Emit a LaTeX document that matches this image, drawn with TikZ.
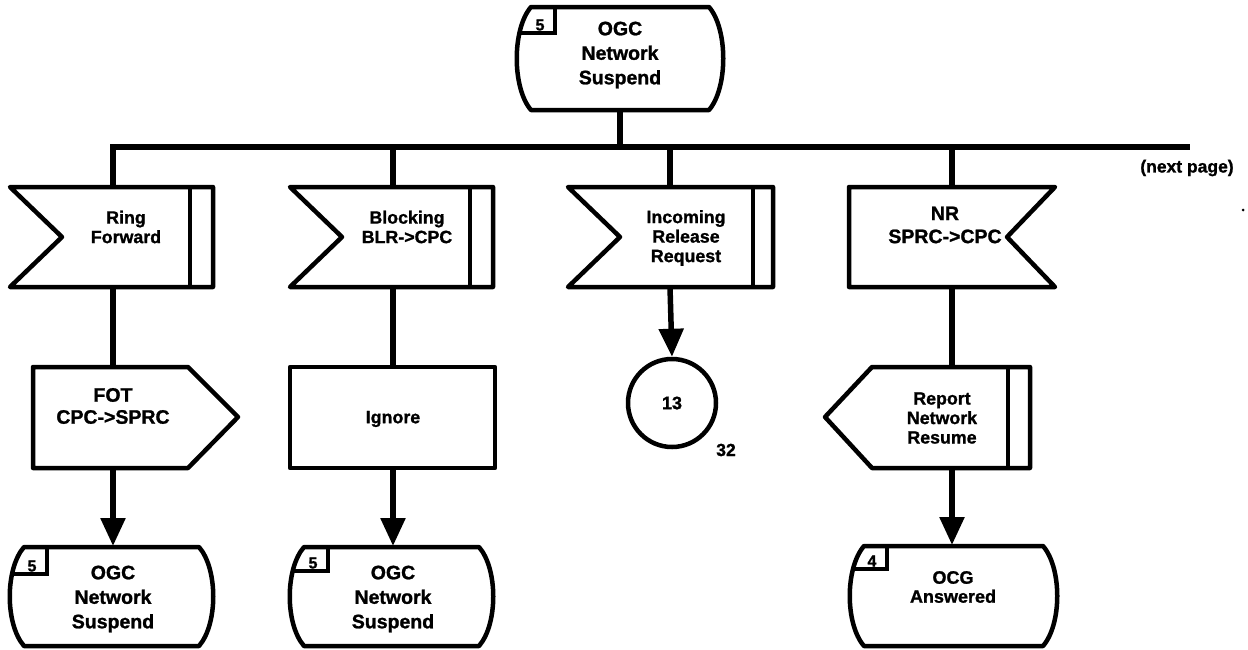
\documentclass[tikz,border=0pt]{standalone}
\usepackage{fontspec}
\setmainfont{Liberation Sans}[BoldFeatures={FakeBold=1.2}]
\usetikzlibrary{arrows.meta,calc}
\newcommand\StOutline[4]{(#1+14,#3) -- (#2-14,#3) .. controls (#2+5,#3+22) and (#2+5,#4-22) .. (#2-14,#4) -- (#1+14,#4) .. controls (#1-5,#4-22) and (#1-5,#3+22) .. (#1+14,#3) -- cycle}
\newcommand\StShape[8]{% x0,x1,top,bot,boxright,boxbottom,number,name
  \fill[white] \StOutline{#1}{#2}{#3}{#4};
  \begin{scope}
    \clip \StOutline{#1}{#2}{#3}{#4};
    \draw[numline] (#1-10,#6) -- (#5,#6) -- (#5,#3-10);
  \end{scope}
  \draw[outl] \StOutline{#1}{#2}{#3}{#4};
  \node[numtxt] (#8) at (#5-15,#6-8) {#7};
}
\begin{document}
\begin{tikzpicture}[x=1pt,y=-1pt,
  outl/.style={line width=4.5pt,line join=round},
  shp/.style={outl,fill=white},
  numline/.style={line width=3.5pt},
  wire/.style={line width=5.5pt},
  arr/.style={wire,-{Triangle[width=24pt,length=28pt]}},
  itxt/.style={font=\bfseries\fontsize{17.8}{19.5}\selectfont,align=center,inner sep=0pt},
  otxt/.style={font=\bfseries\fontsize{19.5}{22}\selectfont,align=center,inner sep=0pt},
  stxt/.style={font=\bfseries\fontsize{19.5}{24.5}\selectfont,align=center,inner sep=0pt},
  numtxt/.style={font=\bfseries\fontsize{16}{16}\selectfont,inner sep=0pt},
  lbl/.style={font=\bfseries\fontsize{17.5}{17.5}\selectfont,inner sep=0pt},
]
\useasboundingbox (0,0) rectangle (1248,649);
\fill[white] (0,0) rectangle (1248,649);

% coordinates
\coordinate (topb) at (620,110);
\coordinate (busc) at (620,147);
\coordinate (busr) at (1190,147);
\coordinate (in1t) at (113,187);  \coordinate (in1b) at (113,287);
\coordinate (out1t) at (113,367); \coordinate (out1b) at (113,468);
\coordinate (s1t) at (113,546);
\coordinate (in2t) at (393,187);  \coordinate (in2b) at (393,287);
\coordinate (out2t) at (393,367); \coordinate (out2b) at (393,468);
\coordinate (s2t) at (393,546);
\coordinate (in3t) at (670,187);  \coordinate (in3b) at (670,287);
\coordinate (in4t) at (952,187);  \coordinate (in4b) at (952,287);
\coordinate (out4t) at (952,367); \coordinate (out4b) at (952,468);
\coordinate (s4t) at (952,545);

% circle connector
\node[circle,draw,line width=4.5pt,minimum size=88pt,inner sep=0pt,
      font=\bfseries\fontsize{18}{18}\selectfont] (c13) at (672,403) {13};
\node[lbl] (p32) at (726,450) {32};

% connectors
\draw[wire] (topb) -- (busc);
\draw[wire,line join=miter] (in1t) |- (busr);
\draw[wire] (in2t) -- (in2t |- busc);
\draw[wire] (in3t) -- (in3t |- busc);
\draw[wire] (in4t) -- (in4t |- busc);
\draw[wire] (in1b) -- (out1t);
\draw[wire] (in2b) -- (out2t);
\draw[wire] (in4b) -- (out4t);
\draw[arr] (out1b) -- (s1t);
\draw[arr] (out2b) -- (s2t);
\draw[arr] (out4b) -- (s4t);
\draw[arr] (in3b) -- (c13.north);

% top state
\StShape{517}{723}{7}{110}{555}{33}{5}{n0}
\node[stxt] (st0) at (620,55) {OGC\\Network\\Suspend};

% inputs
\draw[shp] (10,187) -- (213,187) -- (213,287) -- (10,287) -- (62,237) -- cycle;
\draw[outl] (190,187) -- (190,287);
\node[itxt] (in1) at (126,227) {Ring\\Forward};

\draw[shp] (290,187) -- (493,187) -- (493,287) -- (290,287) -- (342,237) -- cycle;
\draw[outl] (470,187) -- (470,287);
\node[itxt] (in2) at (407,227) {Blocking\\BLR->CPC};

\draw[shp] (568,187) -- (773,187) -- (773,287) -- (568,287) -- (620,237) -- cycle;
\draw[outl] (753,187) -- (753,287);
\node[itxt] (in3) at (686,238) {Incoming\\Release\\Request};

\draw[shp] (849,187) -- (1055,187) -- (1007,237) -- (1055,287) -- (849,287) -- cycle;
\node[otxt,font=\bfseries\fontsize{19.5}{23}\selectfont] (in4) at (945,225) {NR\\SPRC->CPC};

% outputs / tasks
\draw[shp] (33,367) -- (188,367) -- (238,417) -- (188,468) -- (33,468) -- cycle;
\node[otxt] (out1) at (113,406) {FOT\\CPC->SPRC};

\draw[shp] (290,367) rectangle (495,468);
\node[otxt,font=\bfseries\fontsize{17.8}{19.5}\selectfont] (out2) at (393,419) {Ignore};

\draw[shp] (872,367) -- (1030,367) -- (1030,468) -- (872,468) -- (825,417) -- cycle;
\draw[outl] (1008,367) -- (1008,468);
\node[itxt] (out4) at (942,418) {Report\\Network\\Resume};

% bottom states
\StShape{10}{213}{547}{646}{47}{574}{5}{n1}
\node[stxt] (st1) at (113,599) {OGC\\Network\\Suspend};
\StShape{290}{493}{547}{646}{328}{571}{5}{n2}
\node[stxt] (st2) at (393,599) {OGC\\Network\\Suspend};
\StShape{850}{1057}{546}{646}{887}{569}{4}{n4}
\node[stxt,font=\bfseries\fontsize{18}{19}\selectfont] (st4) at (953,587) {OCG\\Answered};

% labels
\node[lbl] (np) at (1187,168) {(next page)};
\fill (1243,210) circle (1.5pt);
\end{tikzpicture}
\end{document}
